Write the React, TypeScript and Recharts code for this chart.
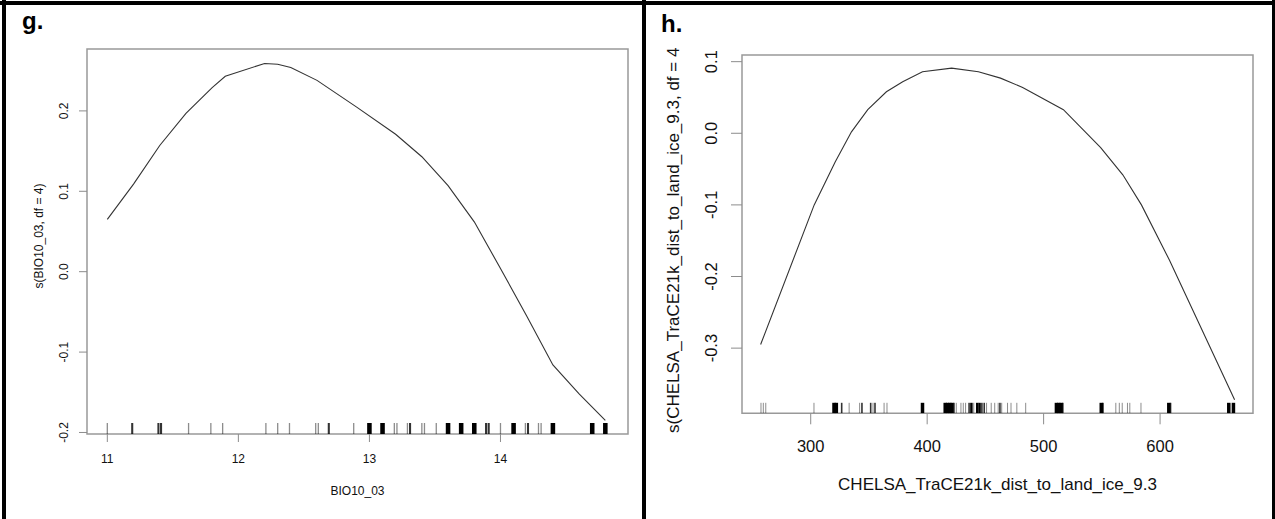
import { ComposedChart, Line, Scatter, XAxis, YAxis, ReferenceArea, Label } from "recharts";

const FONT = '"Liberation Sans", Arial, Helvetica, sans-serif';

// g. smooth term s(BIO10_03, df = 4)
const gCurveX = [11.0, 11.2, 11.4, 11.6, 11.8, 11.9, 12.2, 12.3, 12.4, 12.6, 12.9, 13.2, 13.4, 13.6, 13.8, 14.0, 14.2, 14.4, 14.6, 14.8];
const gCurveY = [0.065, 0.109, 0.157, 0.197, 0.229, 0.243, 0.259, 0.258, 0.254, 0.238, 0.205, 0.171, 0.143, 0.107, 0.062, 0.004, -0.055, -0.116, -0.152, -0.185];
const gRugX = [11.0, 11.19, 11.39, 11.41, 11.62, 11.79, 11.88, 12.21, 12.3, 12.39, 12.59, 12.61, 12.69, 12.88, 13.0, 13.1, 13.19, 13.21, 13.29, 13.31, 13.4, 13.42, 13.51, 13.6, 13.7, 13.8, 13.89, 13.91, 14.0, 14.1, 14.19, 14.21, 14.29, 14.31, 14.4, 14.7, 14.8];
const gRugN = [1, 2, 2, 2, 1, 1, 1, 1, 1, 1, 1, 1, 2, 1, 6, 6, 1, 1, 1, 2, 1, 1, 1, 6, 6, 6, 2, 2, 1, 6, 1, 2, 1, 1, 6, 6, 6];
const gXTicks = [11, 12, 13, 14];
const gYTicks = [-0.2, -0.1, 0, 0.1, 0.2];
const gXDomain: [number, number] = [10.845, 14.973];
const gYDomain: [number, number] = [-0.2019, 0.277];

// h. smooth term s(CHELSA_TraCE21k_dist_to_land_ice_9.3, df = 4)
const hCurveX = [257, 303, 321, 335, 349, 365, 379, 396, 421, 444, 463, 482, 517, 549, 568, 584, 608, 664];
const hCurveY = [-0.295, -0.1, -0.04, 0.002, 0.033, 0.058, 0.072, 0.086, 0.091, 0.086, 0.077, 0.064, 0.033, -0.02, -0.058, -0.1, -0.177, -0.372];
const hRugX = [257.3, 259.3, 261.4, 302.8, 320, 322, 326.6, 333, 342, 344, 351.5, 353.5, 355.2, 363, 365.5, 396, 415.5, 417.5, 419.5, 421.3, 423, 425, 429, 431, 433, 436, 438, 440, 443, 445, 447, 449, 451, 455, 458, 461, 462.5, 464, 469, 472, 477, 484.6, 511, 513, 515, 516.5, 549.5, 551, 562, 565, 567.5, 572, 574, 583.6, 607.5, 609, 659, 663];
const hRugN = [1, 1, 1, 1, 5, 5, 2, 1, 1, 2, 2, 1, 2, 1, 1, 5, 5, 5, 5, 5, 2, 1, 1, 1, 1, 2, 3, 1, 3, 3, 2, 2, 1, 1, 1, 1, 2, 1, 1, 1, 1, 1, 5, 5, 5, 2, 5, 2, 1, 1, 1, 1, 1, 1, 5, 2, 5, 5];
const hXTicks = [300, 400, 500, 600];
const hYTicks = [-0.3, -0.2, -0.1, 0, 0.1];
const hXDomain: [number, number] = [241.0, 679.8];
const hYDomain: [number, number] = [-0.391, 0.1093];

function RugMark(props: any) {
  const { cx, cy, payload, h, k } = props;
  const n = payload.n;
  const w = (n >= 5 ? 3.5 : n >= 3 ? 2.5 : n === 2 ? 1.6 : 1) * k;
  const op = n >= 3 ? 1 : n === 2 ? 0.8 : 0.45;
  return <rect x={cx - w / 2} y={cy - h} width={w} height={h} fill="#000" fillOpacity={op} />;
}

function RotTick(props: any) {
  const { x, y, payload, off, size } = props;
  const tx = x - off;
  return (
    <text x={tx} y={y} transform={`rotate(-90 ${tx} ${y})`} textAnchor="middle" dominantBaseline="central"
      fontSize={size} fontFamily={FONT} fill="#111">
      {Number(payload.value).toFixed(1)}
    </text>
  );
}

function Panel(p: any) {
  const curve = p.cx.map((x: number, i: number) => ({ x, y: p.cy[i] }));
  const rug = p.rx.map((x: number, i: number) => ({ x, y: p.yDomain[0], n: p.rn[i] }));
  return (
    <div style={{ position: "absolute", left: p.left, top: 0 }}>
      <ComposedChart width={p.width} height={519} margin={{ top: p.top, right: p.right, left: 0, bottom: 0 }}>
        <XAxis type="number" dataKey="x" domain={p.xDomain} allowDataOverflow ticks={p.xTicks} interval={0}
          axisLine={false} tickLine={{ stroke: "#8c8c8c" }} tickSize={p.tickSize} tickMargin={p.xTickMargin}
          height={p.xAxisHeight} tick={{ fontSize: p.font, fontFamily: FONT, fill: "#111" }}>
          <Label content={() => (
            <text x={p.xTitleX} y={p.xTitleY} textAnchor="middle" fontSize={p.titleFont} fontFamily={FONT} fill="#111">{p.xTitle}</text>
          )} />
        </XAxis>
        <YAxis type="number" domain={p.yDomain} allowDataOverflow ticks={p.yTicks} interval={0}
          axisLine={false} tickLine={{ stroke: "#8c8c8c" }} tickSize={p.tickSize} width={p.yAxisWidth}
          tick={<RotTick off={p.yTickOff} size={p.font} />}>
          <Label content={() => (
            <text x={p.yTitleX} y={p.yTitleY} transform={`rotate(-90 ${p.yTitleX} ${p.yTitleY})`}
              textAnchor={p.yTitleAnchor} dominantBaseline="central" fontSize={p.titleFont} fontFamily={FONT} fill="#111">{p.yTitle}</text>
          )} />
        </YAxis>
        <ReferenceArea x1={p.xDomain[0]} x2={p.xDomain[1]} y1={p.yDomain[0]} y2={p.yDomain[1]}
          fill="none" stroke="#999" strokeWidth={1.5} ifOverflow="visible" />
        <Scatter data={rug} dataKey="y" shape={<RugMark h={p.rugH} k={p.rugK} />} isAnimationActive={false} />
        <Line data={curve} dataKey="y" type="linear" stroke="#333" strokeWidth={1.1} dot={false} isAnimationActive={false} />
      </ComposedChart>
    </div>
  );
}

export default function App() {
  return (
    <div style={{ position: "fixed", left: 0, top: 0, width: 1275, height: 519, background: "#fff", overflow: "hidden" }}>
      <Panel left={0} width={640} top={49} right={12} yAxisWidth={87} xAxisHeight={85}
        cx={gCurveX} cy={gCurveY} rx={gRugX} rn={gRugN} xDomain={gXDomain} yDomain={gYDomain}
        xTicks={gXTicks} yTicks={gYTicks} font={12} titleFont={12} tickSize={8} xTickMargin={12.5} yTickOff={13}
        rugH={11} rugK={1.3}
        xTitle="BIO10_03" xTitleX={357.5} xTitleY={495}
        yTitle="s(BIO10_03, df = 4)" yTitleX={39} yTitleY={236} yTitleAnchor="middle" />
      <Panel left={640} width={635} top={55} right={22} yAxisWidth={102} xAxisHeight={105.7}
        cx={hCurveX} cy={hCurveY} rx={hRugX} rn={hRugN} xDomain={hXDomain} yDomain={hYDomain}
        xTicks={hXTicks} yTicks={hYTicks} font={16.5} titleFont={17} tickSize={11} xTickMargin={15.7} yTickOff={17.5}
        rugH={10.5} rugK={1}
        xTitle="CHELSA_TraCE21k_dist_to_land_ice_9.3" xTitleX={357.5} xTitleY={490}
        yTitle="s(CHELSA_TraCE21k_dist_to_land_ice_9.3, df = 4" yTitleX={33} yTitleY={433} yTitleAnchor="start" />
      <svg width={1275} height={519} style={{ position: "absolute", left: 0, top: 0, pointerEvents: "none" }}>
        <rect x={0} y={1} width={1275} height={4} fill="#000" />
        <rect x={2} y={0} width={4} height={519} fill="#000" />
        <rect x={642} y={0} width={4} height={519} fill="#000" />
        <rect x={1272} y={0} width={3} height={519} fill="#000" />
        <text x={22} y={29} fontSize={24} fontWeight="bold" fontFamily={FONT} fill="#000">g.</text>
        <text x={661} y={32} fontSize={24} fontWeight="bold" fontFamily={FONT} fill="#000">h.</text>
      </svg>
    </div>
  );
}
